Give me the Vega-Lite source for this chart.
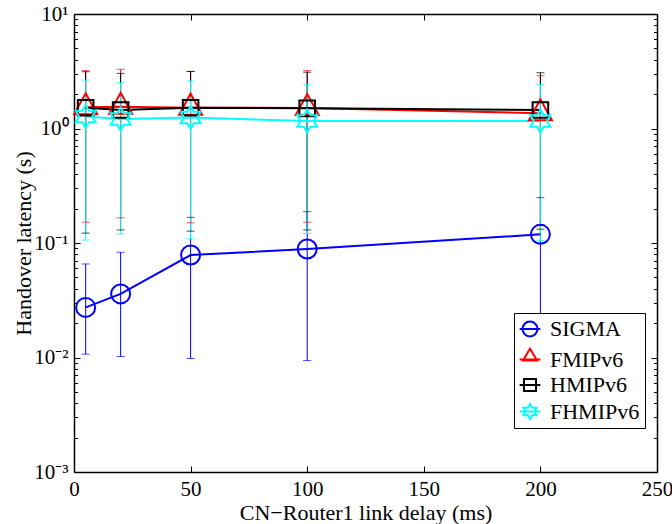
{
  "$schema": "https://vega.github.io/schema/vega-lite/v6.json",
  "autosize": {"type": "none"},
  "padding": {"left": 74, "top": 14, "right": 15, "bottom": 52},
  "width": 583,
  "height": 458,
  "background": "white",
  "config": {
    "view": {"stroke": null},
    "font": "Liberation Serif",
    "axis": {
      "grid": false, "domainColor": "black", "domainWidth": 1.5, "tickColor": "black", "tickWidth": 1,
      "labelColor": "black", "titleColor": "black", "labelFont": "Liberation Serif", "titleFont": "Liberation Serif",
      "labelFontSize": 21, "titleFontSize": 22, "titleFontWeight": "normal", "labelFlush": false, "labelOverlap": false
    }
  },
  "data": {"values": [
    {"s": "SIGMA", "x": 5, "y": 0.0274, "lo": 0.0107, "hi": 0.0656},
    {"s": "SIGMA", "x": 20, "y": 0.0359, "lo": 0.0102, "hi": 0.083},
    {"s": "SIGMA", "x": 50, "y": 0.0785, "lo": 0.0098, "hi": 0.1675},
    {"s": "SIGMA", "x": 100, "y": 0.0887, "lo": 0.0094, "hi": 0.1875},
    {"s": "SIGMA", "x": 200, "y": 0.119, "lo": 0.0095, "hi": 0.249},
    {"s": "FMIPv6", "x": 5, "y": 1.53, "lo": 0.152, "hi": 3.2},
    {"s": "FMIPv6", "x": 20, "y": 1.55, "lo": 0.166, "hi": 3.29},
    {"s": "FMIPv6", "x": 50, "y": 1.52, "lo": 0.15, "hi": 3.15},
    {"s": "FMIPv6", "x": 100, "y": 1.51, "lo": 0.152, "hi": 3.2},
    {"s": "FMIPv6", "x": 200, "y": 1.36, "lo": 0.145, "hi": 2.89},
    {"s": "HMIPv6", "x": 5, "y": 1.52, "lo": 0.122, "hi": 3.13},
    {"s": "HMIPv6", "x": 20, "y": 1.45, "lo": 0.13, "hi": 3.03},
    {"s": "HMIPv6", "x": 50, "y": 1.52, "lo": 0.127, "hi": 3.15},
    {"s": "HMIPv6", "x": 100, "y": 1.5, "lo": 0.13, "hi": 3.1},
    {"s": "HMIPv6", "x": 200, "y": 1.45, "lo": 0.132, "hi": 3.07},
    {"s": "FHMIPv6", "x": 5, "y": 1.27, "lo": 0.106, "hi": 2.65},
    {"s": "FHMIPv6", "x": 20, "y": 1.21, "lo": 0.12, "hi": 2.51},
    {"s": "FHMIPv6", "x": 50, "y": 1.25, "lo": 0.109, "hi": 2.6},
    {"s": "FHMIPv6", "x": 100, "y": 1.16, "lo": 0.121, "hi": 2.43},
    {"s": "FHMIPv6", "x": 200, "y": 1.16, "lo": 0.105, "hi": 2.43}
  ]},
  "resolve": {"axis": {"x": "independent", "y": "independent"}, "legend": {"color": "independent"}},
  "layer": [
    {
      "mark": {"type": "rule", "strokeWidth": 1},
      "encoding": {
        "x": {"field": "x", "type": "quantitative", "scale": {"domain": [0, 250], "nice": false, "zero": false},
          "axis": {"orient": "bottom", "values": [0, 50, 100, 150, 200, 250], "tickSize": -6, "labelPadding": 12, "title": "CN−Router1 link delay (ms)", "titlePadding": 3}},
        "y": {"field": "lo", "type": "quantitative", "scale": {"type": "log", "domain": [0.001, 10], "nice": false},
          "axis": {"orient": "left", "values": [0.001, 0.01, 0.1, 1, 10], "tickSize": -6, "labelPadding": 12,
            "labelExpr": "datum.value >= 5 ? '10¹' : datum.value >= 0.5 ? '10⁰' : datum.value >= 0.05 ? '10⁻¹' : datum.value >= 0.005 ? '10⁻²' : '10⁻³'",
            "title": "Handover latency (s)", "titlePadding": -2}},
        "y2": {"field": "hi"},
        "color": {"field": "s", "type": "nominal", "scale": {"domain": ["SIGMA", "FMIPv6", "HMIPv6", "FHMIPv6"], "range": ["#0000ff", "#ff0000", "#000000", "#00ffff"]}, "legend": null}
      }
    },
    {
      "mark": {"type": "tick", "orient": "horizontal", "size": 8, "thickness": 1},
      "encoding": {
        "x": {"field": "x", "type": "quantitative", "scale": {"domain": [0, 250], "nice": false, "zero": false},
          "axis": {"orient": "top", "values": [0, 50, 100, 150, 200, 250], "tickSize": -6, "labels": false, "title": null}},
        "y": {"field": "lo", "type": "quantitative", "scale": {"type": "log", "domain": [0.001, 10], "nice": false},
          "axis": {"orient": "left", "values": [0.002, 0.003, 0.004, 0.005, 0.006, 0.007, 0.008, 0.009, 0.02, 0.03, 0.04, 0.05, 0.06, 0.07, 0.08, 0.09, 0.2, 0.3, 0.4, 0.5, 0.6, 0.7, 0.8, 0.9, 2, 3, 4, 5, 6, 7, 8, 9], "tickSize": -3.5, "labels": false, "domain": false, "title": null}},
        "color": {"field": "s", "type": "nominal", "legend": null}
      }
    },
    {
      "mark": {"type": "tick", "orient": "horizontal", "size": 8, "thickness": 1},
      "encoding": {
        "x": {"field": "x", "type": "quantitative", "scale": {"domain": [0, 250], "nice": false, "zero": false}, "axis": null},
        "y": {"field": "hi", "type": "quantitative", "scale": {"type": "log", "domain": [0.001, 10], "nice": false},
          "axis": {"orient": "right", "values": [0.001, 0.01, 0.1, 1, 10], "tickSize": -6, "labels": false, "title": null}},
        "color": {"field": "s", "type": "nominal", "legend": null}
      }
    },
    {
      "mark": {"type": "line", "strokeWidth": 2},
      "encoding": {
        "x": {"field": "x", "type": "quantitative", "scale": {"domain": [0, 250], "nice": false, "zero": false}, "axis": null},
        "y": {"field": "y", "type": "quantitative", "scale": {"type": "log", "domain": [0.001, 10], "nice": false},
          "axis": {"orient": "right", "values": [0.002, 0.003, 0.004, 0.005, 0.006, 0.007, 0.008, 0.009, 0.02, 0.03, 0.04, 0.05, 0.06, 0.07, 0.08, 0.09, 0.2, 0.3, 0.4, 0.5, 0.6, 0.7, 0.8, 0.9, 2, 3, 4, 5, 6, 7, 8, 9], "tickSize": -3.5, "labels": false, "domain": false, "title": null}},
        "color": {
          "field": "s", "type": "nominal",
          "legend": {
            "title": null, "orient": "none", "legendX": 440, "legendY": 299,
            "strokeColor": "black", "fillColor": "white", "padding": 5,
            "labelFont": "Liberation Serif", "labelFontSize": 22, "labelColor": "black", "labelOffset": 9,
            "rowPadding": 3.5, "symbolSize": 324, "symbolStrokeWidth": 2, "symbolFillColor": "transparent",
            "encode": {"symbols": {"update": {
              "shape": {"signal": "datum.value === 'SIGMA' ? 'M-0.83,0A0.83,0.83,0,1,1,0.83,0A0.83,0.83,0,1,1,-0.83,0ZM-1.15,0L1.15,0' : datum.value === 'FMIPv6' ? 'M0,-1.2L0.78,0.1L-0.78,0.1ZM-1.15,0L1.15,0' : datum.value === 'HMIPv6' ? 'M-0.67,-0.67L0.67,-0.67L0.67,0.67L-0.67,0.67ZM-1.15,0L1.15,0' : 'M0,-0.83L0.24,-0.415L0.719,-0.415L0.479,0L0.719,0.415L0.24,0.415L0,0.83L-0.24,0.415L-0.719,0.415L-0.479,0L-0.719,-0.415L-0.24,-0.415ZM-1.15,0L1.15,0'"},
              "fill": {"value": "transparent"},
              "stroke": {"scale": "color", "field": "value"},
              "strokeWidth": {"value": 2},
              "opacity": {"value": 1}
            }}}
          }
        }
      }
    },
    {
      "mark": {"type": "point", "filled": false, "strokeWidth": 2, "size": 400, "opacity": 1},
      "encoding": {
        "x": {"field": "x", "type": "quantitative", "scale": {"domain": [0, 250], "nice": false, "zero": false}, "axis": null},
        "y": {"field": "y", "type": "quantitative", "scale": {"type": "log", "domain": [0.001, 10], "nice": false}, "axis": null},
        "shape": {"field": "s", "type": "nominal", "legend": null,
          "scale": {"domain": ["SIGMA", "FMIPv6", "HMIPv6", "FHMIPv6"],
            "range": ["M-0.95,0A0.95,0.95,0,1,1,0.95,0A0.95,0.95,0,1,1,-0.95,0Z", "M0,-1.4L1.15,0.7L-1.15,0.7Z", "M-0.78,-0.78L0.78,-0.78L0.78,0.78L-0.78,0.78Z", "M0,-1.15L0.332,-0.575L0.996,-0.575L0.664,0L0.996,0.575L0.332,0.575L0,1.15L-0.332,0.575L-0.996,0.575L-0.664,0L-0.996,-0.575L-0.332,-0.575Z"]}},
        "color": {"field": "s", "type": "nominal", "legend": null}
      }
    }
  ]
}
